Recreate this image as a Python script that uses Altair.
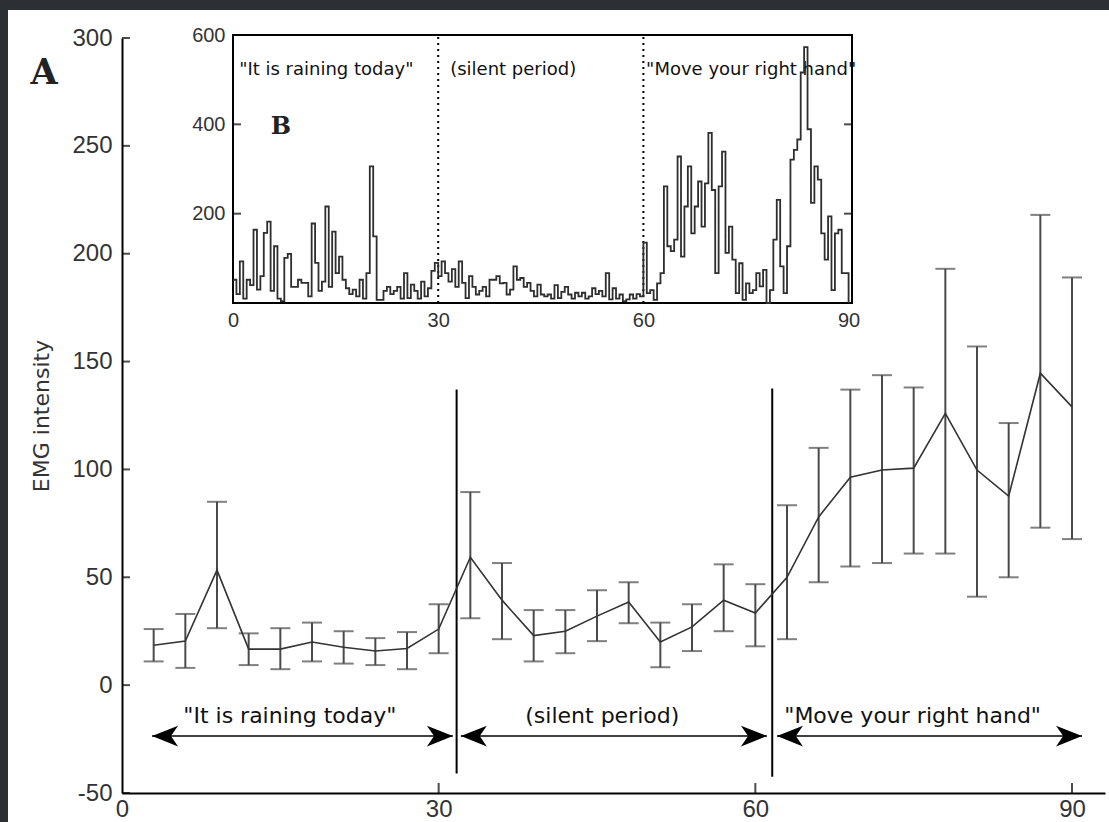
import altair as alt
import numpy as np
import pandas as pd

# ---------------- Panel A : mean EMG intensity with error bars ----------------
sample_t = [3, 6, 9, 12, 15, 18, 21, 24, 27, 30,
            33, 36, 39, 42, 45, 48, 51, 54, 57, 60,
            63, 66, 69, 72, 75, 78, 81, 84, 87, 90]
emg_mean = [18.5, 20.4, 53.3, 16.7, 16.7, 20.0, 17.6, 15.8, 17.0, 26.0,
            59.3, 39.4, 23.0, 25.0, 32.0, 38.5, 20.0, 27.0, 39.4, 33.4,
            50.0, 78.0, 96.4, 99.7, 100.6, 126.0, 99.7, 87.6, 144.6, 129.0]
emg_hi = [26.0, 33.0, 85.0, 24.0, 26.4, 29.0, 25.0, 21.8, 24.6, 37.5,
          89.5, 56.6, 34.8, 34.8, 44.0, 47.7, 29.0, 37.5, 56.0, 46.8,
          83.4, 110.0, 137.0, 143.7, 138.0, 193.0, 157.0, 121.5, 218.0, 189.0]
emg_lo = [11.0, 8.0, 26.4, 9.3, 7.4, 11.0, 10.0, 9.3, 7.4, 14.8,
          31.0, 21.3, 11.0, 14.8, 20.4, 28.7, 8.3, 15.8, 25.0, 18.0,
          21.3, 47.7, 55.0, 56.6, 61.0, 61.0, 41.0, 50.0, 73.0, 67.7]

divider_x = [31.7, 61.6]
divider_lo = [-41.0, -42.5]
divider_hi = [137.0, 137.5]

arrow_start = [2.85, 32.1, 62.05]
arrow_end = [31.35, 61.1, 90.95]
arrow_y = [-23.6, -23.6, -23.6]

phase_labels = ['"It is raining today"', '(silent period)', '"Move your right hand"']
phase_label_x = [15.9, 45.5, 74.9]
phase_label_y = [-17.6, -17.6, -17.6]

y_ticks_main = [-50, 0, 50, 100, 150, 200, 250, 300]
x_ticks_main = [0, 30, 60, 90]

# ---------------- Panel B : raw EMG trace (0.5 s steps) ----------------
trace_seg1 = [52, 20, 93, 10, 52, 40, 164, 30, 60, 157, 182, 27, 127, 10, 4, 101,
              110, 36, 36, 52, 45, 45, 15, 178, 90, 27, 48, 216, 36, 160, 67, 104,
              52, 33, 20, 30, 15, 52, 10, 67, 306, 149, 7, 7, 27, 36, 20, 27, 36,
              10, 67, 11, 41, 27, 10, 48, 15, 33, 72, 90, 60]
trace_seg2 = [93, 67, 48, 76, 36, 93, 45, 11, 60, 36, 19, 27, 36, 15, 52, 52, 60,
              44, 45, 19, 30, 82, 52, 56, 36, 45, 27, 15, 41, 19, 15, 19, 10, 40,
              11, 25, 36, 19, 10, 23, 15, 23, 10, 15, 33, 20, 27, 15, 67, 8, 33,
              10, 19, 4, 8, 19, 10, 20, 15, 135]
trace_seg3 = [22, 29, 7, 44, 67, 261, 127, 116, 142, 328, 104, 216, 306, 156, 216,
              272, 171, 268, 381, 253, 67, 261, 339, 112, 171, 97, 22, 89, 7, 44,
              22, 29, 67, 37, 74, 0, 29, 142, 231, 82, 22, 127, 321, 343, 366, 516,
              573, 389, 224, 306, 276, 156, 97, 194, 29, 156, 164, 67, 67, 0]
trace_values = trace_seg1 + trace_seg2 + trace_seg3
trace_t = [i * 0.5 for i in range(len(trace_values))]

inset_dividers = [30, 60]
inset_labels = ['"It is raining today"', '(silent period)', '"Move your right hand"']
inset_label_x = [0.9, 31.75, 60.4]
inset_label_y = [510, 510, 510]
inset_y_ticks = [200, 400, 600]
inset_tick_marks = [200, 400]
inset_x_ticks = [0, 30, 60, 90]

# ---------------- styling ----------------
TICK_FONT = "Liberation Sans"
TEXT_FONT = "DejaVu Sans"
one = pd.DataFrame({"k": [0]})


def xs():
    return alt.Scale(domain=[0, 93.125], range=[0, 983], nice=False, zero=False)


def ys():
    return alt.Scale(domain=[-50, 300], range=[755, 0], nice=False, zero=False)


def xi():
    return alt.Scale(domain=[0, 90.5], range=[111, 730], nice=False, zero=False)


def yi():
    return alt.Scale(domain=[0, 600], range=[265, -3], nice=False, zero=False)


main_df = pd.DataFrame({"t": sample_t, "mean": emg_mean, "hi": emg_hi, "lo": emg_lo})
div_df = pd.DataFrame({"x": divider_x, "lo": divider_lo, "hi": divider_hi})
arr_df = pd.DataFrame({"x0": arrow_start, "x1": arrow_end, "y": arrow_y})
lab_df = pd.DataFrame({"x": phase_label_x, "y": phase_label_y, "txt": phase_labels})
ytk_df = pd.DataFrame({"v": y_ticks_main})
xtk_df = pd.DataFrame({"v": [v for v in x_ticks_main if v > 0]})


def qx(field):
    return alt.X(field, type="quantitative", scale=xs(), axis=None)


def qy(field):
    return alt.Y(field, type="quantitative", scale=ys(), axis=None)


bg = alt.Chart(one).mark_rect(color="white").encode(
    x=alt.value(-114), x2=alt.value(990), y=alt.value(-28), y2=alt.value(790))

dividers = alt.Chart(div_df).mark_rule(color="black", strokeWidth=2).encode(
    x=qx("x"), y=qy("lo"), y2="hi")

err = alt.Chart(main_df).mark_rule(color="#4a4a4a", strokeWidth=2).encode(
    x=qx("t"), y=qy("lo"), y2="hi")
cap_lo = alt.Chart(main_df).mark_tick(orient="horizontal", size=20, thickness=2,
                                      color="#4a4a4a").encode(x=qx("t"), y=qy("lo"))
cap_hi = alt.Chart(main_df).mark_tick(orient="horizontal", size=20, thickness=2,
                                      color="#4a4a4a").encode(x=qx("t"), y=qy("hi"))

line = alt.Chart(main_df).mark_line(color="#333333", strokeWidth=1.6).encode(
    x=alt.X("t:Q", scale=xs(), title=None,
            axis=alt.Axis(values=x_ticks_main, ticks=False, grid=False, zindex=2,
                          orient="bottom",
                          domainColor="black", domainWidth=2, labelFlush=False,
                          labelFont=TICK_FONT, labelFontSize=24, labelColor="#333333",
                          labelPadding=4)),
    y=alt.Y("mean:Q", scale=ys(),
            axis=alt.Axis(values=y_ticks_main, ticks=False, grid=False, zindex=2,
                          orient="left",
                          domainColor="black", domainWidth=2, labelFlush=False,
                          labelExpr="datum.value + ''",
                          labelFont=TICK_FONT, labelFontSize=24, labelColor="#333333",
                          labelPadding=10, title="EMG intensity",
                          titleFont=TEXT_FONT, titleFontSize=22,
                          titleFontWeight="normal", titleColor="#333333",
                          titlePadding=18)))

shafts = alt.Chart(arr_df).mark_rule(color="black", strokeWidth=1.6).encode(
    x=qx("x0"), x2="x1", y=qy("y"))
head_l = alt.Chart(arr_df).mark_point(
    shape="M0,0L2,-0.8L1.45,0L2,0.8Z", filled=True, color="black",
    size=676, opacity=1, strokeWidth=0).encode(x=qx("x0"), y=qy("y"))
head_r = alt.Chart(arr_df).mark_point(
    shape="M0,0L-2,-0.8L-1.45,0L-2,0.8Z", filled=True, color="black",
    size=676, opacity=1, strokeWidth=0).encode(x=qx("x1"), y=qy("y"))

labels = alt.Chart(lab_df).mark_text(
    font=TEXT_FONT, fontSize=22, color="#111111", align="center",
    baseline="alphabetic").encode(x=qx("x"), y=qy("y"), text="txt:N")

ytk = alt.Chart(ytk_df).mark_tick(orient="horizontal", size=8, thickness=2,
                                  xOffset=4, color="black").encode(
    x=alt.XDatum(0, type="quantitative", scale=xs(), axis=None), y=qy("v"))
xtk = alt.Chart(xtk_df).mark_tick(orient="vertical", size=10, thickness=2,
                                  yOffset=-5, color="black").encode(
    x=qx("v"), y=alt.YDatum(-50, type="quantitative", scale=ys(), axis=None))

label_a = alt.Chart(one).mark_text(
    text="A", font="DejaVu Serif", fontWeight="bold", fontSize=35,
    color="#222222", align="center", baseline="middle").encode(
    x=alt.value(-78), y=alt.value(35))

# ---------------- inset (panel B) ----------------
trace_df = pd.DataFrame({"t": trace_t, "v": trace_values})
idiv_df = pd.DataFrame({"x": inset_dividers})
ilab_df = pd.DataFrame({"x": inset_label_x, "y": inset_label_y, "txt": inset_labels})
itk_df = pd.DataFrame({"v": inset_tick_marks})


def ix(field):
    return alt.X(field, type="quantitative", scale=xi(), axis=None)


def iy(field):
    return alt.Y(field, type="quantitative", scale=yi(), axis=None)


frame = alt.Chart(one).mark_rect(fill="white", stroke="black", strokeWidth=2).encode(
    x=alt.XDatum(0, type="quantitative", scale=xi(), axis=None),
    x2=alt.X2Datum(90.5),
    y=alt.YDatum(0, type="quantitative", scale=yi(), axis=None),
    y2=alt.Y2Datum(600))

idiv = alt.Chart(idiv_df).mark_rule(color="black", strokeWidth=2,
                                    strokeDash=[2, 4]).encode(
    x=ix("x"),
    y=alt.YDatum(0, type="quantitative", scale=yi(), axis=None),
    y2=alt.Y2Datum(600))

ilab = alt.Chart(ilab_df).mark_text(
    font=TEXT_FONT, fontSize=18, color="#111111", align="left",
    baseline="alphabetic").encode(x=ix("x"), y=iy("y"), text="txt:N")

trace = alt.Chart(trace_df).mark_line(
    interpolate="step-after", color="#2e2e2e", strokeWidth=1.8).encode(
    x=alt.X("t:Q", scale=xi(), title=None,
            axis=alt.Axis(values=inset_x_ticks, orient="bottom", offset=-490,
                          ticks=False, domain=False, grid=False, labelFlush=False,
                          zindex=2, labelFont=TICK_FONT, labelFontSize=20,
                          labelColor="#333333", labelPadding=7)),
    y=alt.Y("v:Q", scale=yi(), title=None,
            axis=alt.Axis(values=inset_y_ticks, orient="left", offset=-111,
                          ticks=False, domain=False, grid=False, labelFlush=False,
                          zindex=2, labelFont=TICK_FONT, labelFontSize=20,
                          labelColor="#333333", labelPadding=8)))

itk_l = alt.Chart(itk_df).mark_tick(orient="horizontal", size=8, thickness=2,
                                    xOffset=4, color="black").encode(
    x=alt.XDatum(0, type="quantitative", scale=xi(), axis=None), y=iy("v"))
itk_r = alt.Chart(itk_df).mark_tick(orient="horizontal", size=8, thickness=2,
                                    xOffset=-4, color="black").encode(
    x=alt.XDatum(90.5, type="quantitative", scale=xi(), axis=None), y=iy("v"))

label_b = alt.Chart(one).mark_text(
    text="B", font="DejaVu Serif", fontWeight="bold", fontSize=24,
    color="#222222", align="center", baseline="middle").encode(
    x=alt.XDatum(7.0, type="quantitative", scale=xi(), axis=None),
    y=alt.YDatum(394, type="quantitative", scale=yi(), axis=None))

chart = alt.layer(
    bg, dividers, err, cap_lo, cap_hi, line, shafts, head_l, head_r,
    labels, ytk, xtk, label_a,
    frame, idiv, ilab, trace, itk_l, itk_r, label_b,
).resolve_scale(
    x="independent", y="independent").properties(
    width=983, height=755,
    autosize=alt.AutoSizeParams(type="none"),
    padding={"left": 122, "top": 38, "right": 4, "bottom": 29},
    background="#2c3034",
).configure_view(stroke="transparent")

chart.save("out.html", embed_options={"renderer": "svg", "actions": False})
